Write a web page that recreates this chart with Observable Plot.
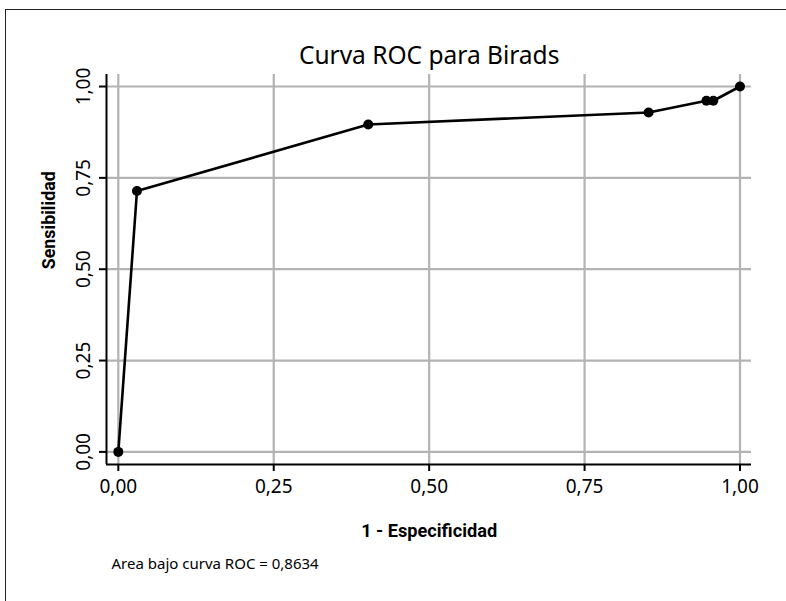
<!DOCTYPE html>
<html>
<head>
<meta charset="utf-8">
<script src="https://cdn.jsdelivr.net/npm/d3@7"></script>
<script src="https://cdn.jsdelivr.net/npm/@observablehq/plot@0.6"></script>
<style>
  html, body { margin: 0; padding: 0; background: #fff; }
  #wrap { position: relative; width: 786px; height: 601px; overflow: hidden; }
  #border { position: absolute; left: 5px; top: 9px; width: 800px; height: 700px;
            border-left: 1.5px solid #222; border-top: 1.5px solid #222; box-sizing: border-box; }
  #chart { position: absolute; left: 0; top: 0; }
</style>
</head>
<body>
<div id="wrap"><div id="border"></div><div id="chart"></div></div>
<script>
// Data
const fpr = [0, 0.030, 0.402, 0.853, 0.946, 0.957, 1];   // 1 - Especificidad
const tpr = [0, 0.714, 0.896, 0.929, 0.961, 0.961, 1];   // Sensibilidad
const xTicks = [0, 0.25, 0.5, 0.75, 1];
const yTicks = [0, 0.25, 0.5, 0.75, 1];
const titleText = "Curva ROC para Birads";
const xLabel = "1 - Especificidad";
const yLabel = "Sensibilidad";
const captionText = "Area bajo curva ROC = 0,8634";

const points = fpr.map((x, i) => ({x, y: tpr[i]}));
const fmt = d3.format(".2f");
const fmtES = d => fmt(d).replace(".", ",");

const W = 786, H = 601;
const mL = 106, mR = 35, mT = 74, mB = 137;
const xDom = [-0.019, 1.0185];
const yDom = [-0.0345, 1.0329];
const pxX = (W - mL - mR) / (xDom[1] - xDom[0]);
const pxY = (H - mT - mB) / (yDom[1] - yDom[0]);
const tick = 7;

const grid = "#b3b3b3";
const tickFont = "'Noto Sans', sans-serif";
const boldFont = "Roboto, 'Noto Sans', sans-serif";

const chart = Plot.plot({
  width: W, height: H,
  marginLeft: mL, marginRight: mR, marginTop: mT, marginBottom: mB,
  x: {domain: xDom, axis: null},
  y: {domain: yDom, axis: null},
  style: {fontFamily: tickFont, background: "transparent"},
  marks: [
    // grid
    Plot.ruleX(xTicks, {stroke: grid, strokeWidth: 2.2}),
    Plot.ruleY(yTicks, {stroke: grid, strokeWidth: 2.2}),
    // axis lines
    Plot.ruleX([xDom[0]], {stroke: "#000", strokeWidth: 2}),
    Plot.ruleY([yDom[0]], {stroke: "#000", strokeWidth: 2}),
    // tick marks
    Plot.ruleX(xTicks, {y1: yDom[0], y2: yDom[0] - tick / pxY, stroke: "#000", strokeWidth: 2}),
    Plot.ruleY(yTicks, {x1: xDom[0], x2: xDom[0] - tick / pxX, stroke: "#000", strokeWidth: 2}),
    // tick labels
    Plot.text(xTicks, {x: d => d, frameAnchor: "bottom", dy: 22.5, text: fmtES,
      fontSize: 19, fill: "#000", lineAnchor: "middle"}),
    Plot.text(yTicks, {y: d => d, frameAnchor: "left", dx: -23, text: fmtES, rotate: -90,
      fontSize: 19, fill: "#000", lineAnchor: "middle", textAnchor: "middle"}),
    // ROC line and points
    Plot.line(points, {x: "x", y: "y", stroke: "#000", strokeWidth: 2.6}),
    Plot.dot(points, {x: "x", y: "y", r: 5, fill: "#000", stroke: "none"}),
    // title
    Plot.text([titleText], {x: 0.5, frameAnchor: "top", dy: -18, text: d => d,
      fontSize: 24.5, fill: "#000", lineAnchor: "middle"}),
    // axis titles
    Plot.text([xLabel], {x: 0.5, frameAnchor: "bottom", dy: 66.7, text: d => d,
      fontSize: 18, fontWeight: "bold", fontFamily: boldFont, fill: "#000", lineAnchor: "middle"}),
    Plot.text([yLabel], {y: 0.5, frameAnchor: "left", dx: -57, text: d => d, rotate: -90,
      fontSize: 18, fontWeight: "bold", fontFamily: boldFont, fill: "#000", lineAnchor: "middle"}),
    // caption
    Plot.text([captionText], {frameAnchor: "bottom-left", dx: 5, dy: 104.7, text: d => d,
      fontSize: 15, fill: "#000", textAnchor: "start", lineAnchor: "bottom"})
  ]
});
// condensed look for the bold axis titles
const targetLen = {[xLabel]: 136, [yLabel]: 98};
d3.select(chart).selectAll("text").each(function() {
  const t = this.textContent;
  if (t in targetLen) {
    this.setAttribute("textLength", targetLen[t]);
    this.setAttribute("lengthAdjust", "spacingAndGlyphs");
  }
});
document.getElementById("chart").appendChild(chart);
</script>
</body>
</html>
